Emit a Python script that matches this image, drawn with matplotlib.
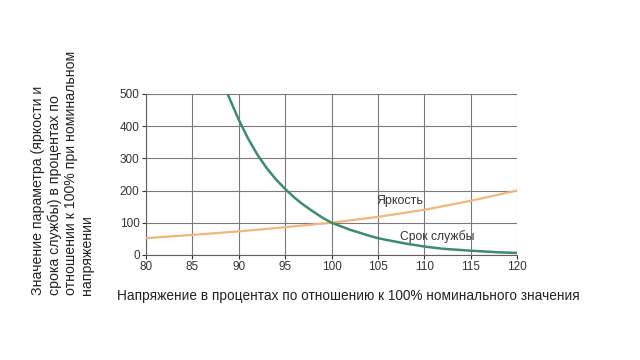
import matplotlib
matplotlib.use("Agg")
import matplotlib.pyplot as plt

voltage_bright = [80, 85, 90, 95, 100, 105, 110, 115, 120]
brightness = [52, 62, 73, 86, 100, 118, 140, 168, 200]

voltage_life = [88.8, 90, 91, 92, 93, 94, 95, 96, 97, 98, 99, 100, 102, 104, 105, 106, 108, 110, 112, 115, 118, 120]
life = [500, 420, 362, 312, 270, 235, 205, 178, 155, 135, 116, 100, 78, 60, 52, 46, 35, 26, 19, 13, 8, 6]

x_ticks = [80, 85, 90, 95, 100, 105, 110, 115, 120]
y_ticks = [0, 100, 200, 300, 400, 500]

ylabel = "Значение параметра (яркости и\nсрока службы) в процентах по\nотношении к 100% при номинальном\nнапряжении"
xlabel = "Напряжение в процентах по отношению к 100% номинального значения"

plt.rcParams['font.family'] = ['Liberation Sans', 'DejaVu Sans']

fig = plt.figure(figsize=(6.4, 3.6), dpi=100)
ax = fig.add_axes([0.228, 0.292, 0.58, 0.447])

ax.plot(voltage_bright, brightness, color='#f2b57a', lw=1.6, zorder=3)
ax.plot(voltage_life, life, color='#3d8c6c', lw=1.8, zorder=4)

ax.set_xlim(80, 120)
ax.set_ylim(0, 500)
ax.set_xticks(x_ticks)
ax.set_yticks(y_ticks)
ax.grid(True, color='#7a7a7a', lw=0.8)
for s in ['top', 'right']:
    ax.spines[s].set_visible(False)
for s in ['left', 'bottom']:
    ax.spines[s].set_color('#606060')
    ax.spines[s].set_linewidth(0.8)
ax.tick_params(axis='both', labelsize=8.5, colors='#333333', length=3, width=0.8, pad=1.5)

ax.text(104.8, 168, "Яркость", fontsize=9, color='#333333', ha='left', va='center')
ax.text(107.4, 56, "Срок службы", fontsize=8.7, color='#333333', ha='left', va='center')

fig.text(0.049, 0.181, ylabel, rotation=90, fontsize=10.2, color='#222222',
         ha='left', va='bottom', multialignment='left', linespacing=1.2)
fig.text(0.544, 0.178, xlabel, fontsize=9.8, color='#222222', ha='center', va='center')

fig.savefig('out.png', dpi=100)
